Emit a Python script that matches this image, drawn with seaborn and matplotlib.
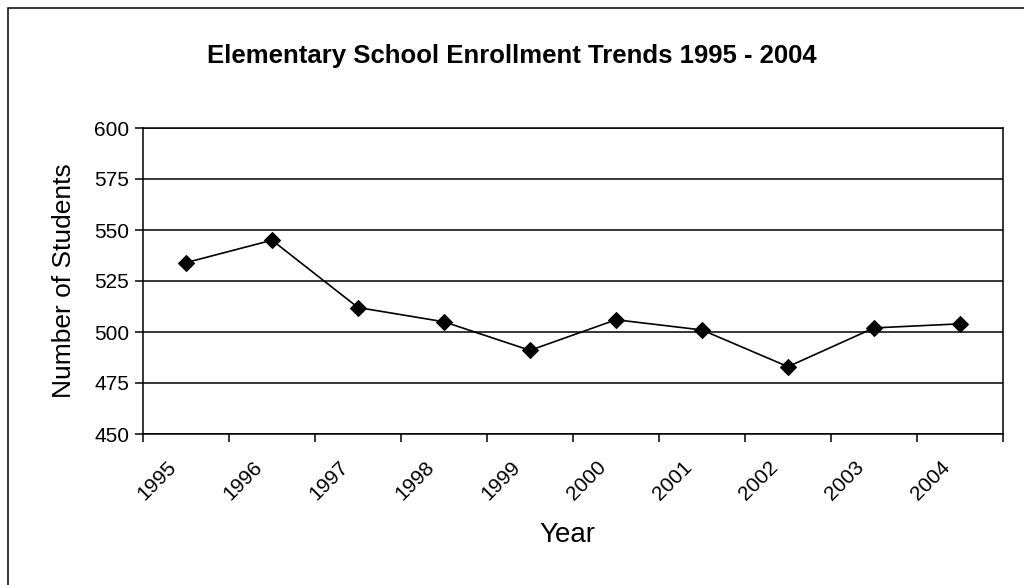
import matplotlib
matplotlib.use("Agg")
import matplotlib.pyplot as plt
import matplotlib.patches as mpatches
from matplotlib.transforms import ScaledTranslation
import numpy as np
import pandas as pd
import seaborn as sns

# data
years = ["1995", "1996", "1997", "1998", "1999", "2000", "2001", "2002", "2003", "2004"]
students = [534, 545, 512, 505, 491, 506, 501, 483, 502, 504]
y_ticks = [450, 475, 500, 525, 550, 575, 600]

sns.set_style("white")
plt.rcParams["font.family"] = ["Liberation Sans", "DejaVu Sans"]
plt.rcParams.update({"text.color": "black", "axes.labelcolor": "black",
                     "xtick.color": "black", "ytick.color": "black"})

df = pd.DataFrame({"Year": years, "Students": students})

fig = plt.figure(figsize=(10.24, 5.85), dpi=100)
ax = fig.add_axes([143 / 1024, 1 - 434 / 585, (1003 - 143) / 1024, (434 - 128) / 585])

sns.lineplot(data=df, x="Year", y="Students", ax=ax, color="black",
             linewidth=1.2, marker="D", markersize=8, markeredgecolor="black",
             markerfacecolor="black")

# y axis
ax.set_ylim(450, 600)
ax.set_yticks(y_ticks)
ax.yaxis.grid(True, color="black", linewidth=1.1)
ax.tick_params(axis="y", direction="out", length=6, width=1.1, pad=4,
               labelsize=15, left=True)

# x axis: ticks on category boundaries, labels on centres
n = len(years)
ax.set_xlim(-0.5, n - 0.5)
ax.set_xticks(np.arange(-0.5, n, 1.0))
ax.set_xticklabels([])
ax.set_xticks(np.arange(n), minor=True)
ax.set_xticklabels(years, minor=True, rotation=45, ha="right", va="top")
ax.tick_params(axis="x", which="major", direction="out", length=6, width=1.1, bottom=True)
ax.tick_params(axis="x", which="minor", length=0, pad=17, labelsize=15)
shift = ScaledTranslation(-6 / 100, 0, fig.dpi_scale_trans)
for lab in ax.get_xticklabels(minor=True):
    lab.set_transform(lab.get_transform() + shift)

for sp in ax.spines.values():
    sp.set_color("black")
    sp.set_linewidth(1.1)

ax.set_xlabel("Year", fontsize=20)
ax.set_ylabel("Number of Students", fontsize=19)
ax.xaxis.set_label_coords(0.493, -0.287)
ax.yaxis.set_label_coords(-0.078, 0.5)

fig.text(0.5, 1 - 62.7 / 585, "Elementary School Enrollment Trends 1995 - 2004",
         ha="center", va="baseline", fontsize=18.5, fontweight="bold")

# outer chart border
fig.patches.append(mpatches.Rectangle((8 / 1024, -0.02), 1.1, 1 - 8 / 585 + 0.02,
                                      transform=fig.transFigure, fill=False,
                                      edgecolor="black", linewidth=1.1))

fig.savefig("out.png", dpi=100)
